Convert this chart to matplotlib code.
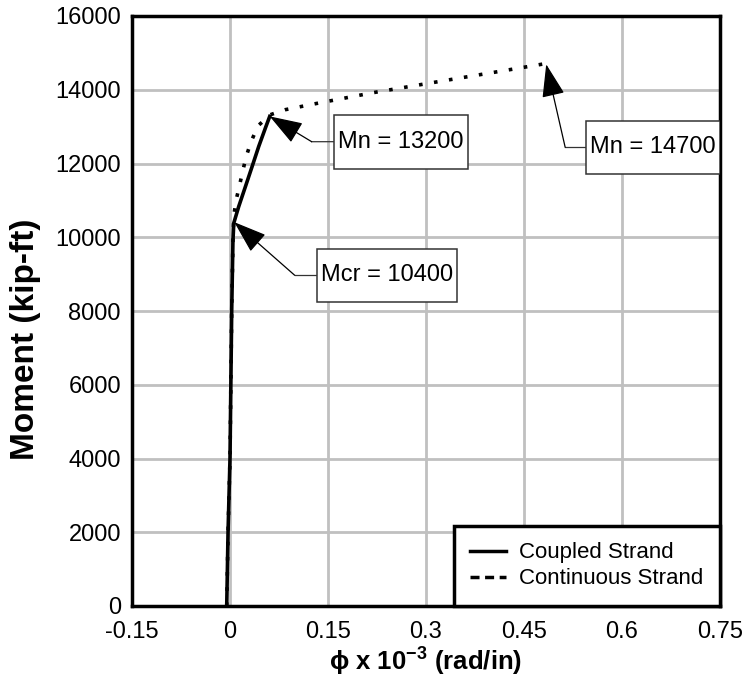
import matplotlib
matplotlib.use("Agg")
import matplotlib.pyplot as plt
from matplotlib.lines import Line2D
from matplotlib.patches import Rectangle

plt.rcParams['font.family'] = ['Liberation Sans', 'DejaVu Sans']
plt.rcParams['mathtext.fontset'] = 'custom'
plt.rcParams['mathtext.rm'] = 'Liberation Sans'
plt.rcParams['mathtext.bf'] = 'Liberation Sans:bold'

# Data
coupled_x = [-0.005, -0.003, 0.0, 0.0026, 0.0045, 0.0058, 0.0134, 0.0237, 0.0339,
             0.0440, 0.0542, 0.0608]
coupled_y = [0, 2000, 4000, 8000, 9900, 10385, 10836, 11379, 11921,
             12464, 12963, 13278]
continuous_x = [-0.005, -0.003, 0.0, 0.0026, 0.0045, 0.0058, 0.0095, 0.0145, 0.0196,
                0.0252, 0.0324, 0.0431, 0.0619, 0.0848, 0.131, 0.219, 0.337, 0.42, 0.48]
continuous_y = [0, 2000, 4000, 8000, 9900, 10583, 11018, 11397, 11805,
                12212, 12600, 13026, 13324, 13460, 13623, 13921, 14274, 14520, 14700]
annotations = [
    ("Mcr = 10400", 0.0065, 10410),
    ("Mn = 13200", 0.0608, 13278),
    ("Mn = 14700", 0.484, 14690),
]
x_ticks = [-0.15, 0, 0.15, 0.3, 0.45, 0.6, 0.75]
x_ticklabels = ["-0.15", "0", "0.15", "0.3", "0.45", "0.6", "0.75"]
y_ticks = list(range(0, 16001, 2000))

fig = plt.figure(figsize=(7.45, 6.81), dpi=100)
ax = fig.add_axes([132 / 745, 1 - 606 / 681, 588 / 745, 590 / 681])

ax.plot(continuous_x, continuous_y, color='black', lw=2.6, linestyle=(0, (1, 3.2)),
        dash_capstyle='butt', zorder=3)
ax.plot(coupled_x, coupled_y, color='black', lw=2.6, zorder=4)

ax.set_xlim(-0.15, 0.75)
ax.set_ylim(0, 16000)
ax.set_xticks(x_ticks)
ax.set_xticklabels(x_ticklabels)
ax.set_yticks(y_ticks)
ax.grid(True, color='#c0c0c0', lw=2)
ax.set_axisbelow(True)
ax.tick_params(length=0, labelsize=17)
ax.tick_params(axis='x', pad=11)
ax.tick_params(axis='y', pad=8)
for s in ax.spines.values():
    s.set_linewidth(2.5)

ax.set_xlabel("ϕ x " + r"$\mathbf{10^{-3}}$" + " (rad/in)", fontsize=18.5,
              fontweight='bold', labelpad=2)
ax.set_ylabel("Moment (kip-ft)", fontsize=24, fontweight='bold')
ax.yaxis.label.set_va('center')
ax.yaxis.label.set_ha('center')
ax.yaxis.set_label_coords(-0.181, 0.452)

# annotation layout: box (x0, x1, y0, y1), text centre x, elbow (x, y)
layout = {
    "Mcr = 10400": ((0.133, 0.348, 8250, 9688), 0.24, (0.099, 8969)),
    "Mn = 13200": ((0.159, 0.365, 11859, 13324), 0.262, (0.125, 12591)),
    "Mn = 14700": ((0.5455, 0.75, 11723, 13161), 0.647, (0.513, 12442)),
}
for label, tx, ty in annotations:
    (x0, x1, y0, y1), cx, (ex, ey) = layout[label]
    cy = (y0 + y1) / 2
    ax.add_patch(Rectangle((x0, y0), x1 - x0, y1 - y0, fc='white', ec='#333333',
                           lw=1.1, zorder=6))
    ax.text(cx, cy, label, fontsize=17, ha='center', va='center', zorder=7)
    ax.plot([x0, ex], [cy, ey], color='#333333', lw=0.9, zorder=5)
    ax.annotate("", xy=(tx, ty), xytext=(ex, ey), zorder=5,
                arrowprops=dict(arrowstyle='-|>,head_length=1.3,head_width=0.45',
                                mutation_scale=16, color='black', lw=0.9,
                                shrinkA=0, shrinkB=0))

handles = [Line2D([0], [0], color='black', lw=2.5),
           Line2D([0], [0], color='black', lw=2.5, linestyle=(0, (2.6, 1.6)))]
leg = ax.legend(handles, ["Coupled Strand", "Continuous Strand"], loc='lower right',
                fontsize=16, frameon=True, fancybox=False, borderaxespad=0,
                handlelength=1.6, handletextpad=0.6, borderpad=0.75, labelspacing=0.22)
leg.get_frame().set_edgecolor('black')
leg.get_frame().set_linewidth(2.5)
leg.get_frame().set_alpha(1)
leg.set_zorder(8)

fig.savefig("out.png", dpi=100)
